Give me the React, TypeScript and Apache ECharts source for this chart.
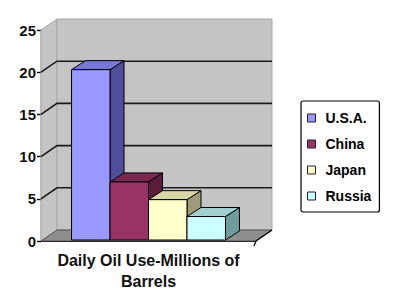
import React, { useEffect, useRef } from "react";
import * as echarts from "echarts";

const categories = ["Daily Oil Use-Millions of\nBarrels"];
const countries = ["U.S.A.", "China", "Japan", "Russia"];
const oilUse = [20.3, 7.0, 4.9, 2.9];
const yTicks = [0, 5, 10, 15, 20, 25];
const frontColors = ["#9999ff", "#993366", "#ffffcc", "#ccffff"];
const topColors = ["#7878dc", "#7a2850", "#d8d5a8", "#a2d0d0"];
const sideColors = ["#4f4f9c", "#5a1d3c", "#9e9c78", "#6f9c9c"];

const FONT = "'Liberation Sans', Arial, Helvetica, sans-serif";
const DX = 16;
const DY = 11;
const BDX = 14;
const BDY = 9;

export default function App() {
  const ref = useRef<HTMLDivElement>(null);
  useEffect(() => {
    if (!ref.current) return;
    const chart = echarts.init(ref.current, null, { renderer: "svg" });

    const wallSeries: any = {
      type: "custom",
      name: "walls",
      z: 1,
      silent: true,
      data: [[0, 0]],
      renderItem: (params: any, api: any) => {
        const cs = params.coordSys;
        const x0 = cs.x, x1 = cs.x + cs.width, yT = cs.y, yB = cs.y + cs.height;
        return {
          type: "group",
          children: [
            {
              type: "polygon",
              shape: { points: [[x0, yT], [x0 + DX, yT - DY], [x0 + DX, yB - DY], [x0, yB]] },
              style: { fill: "#c4c4c4", stroke: "#a8a8a8", lineWidth: 1 },
            },
            {
              type: "rect",
              shape: { x: x0 + DX, y: yT - DY, width: x1 - x0, height: yB - yT },
              style: { fill: "#c4c4c4", stroke: "#a8a8a8", lineWidth: 1 },
            },
            {
              type: "polygon",
              shape: { points: [[x0, yB], [x0 + DX, yB - DY], [x1 + DX, yB - DY], [x1, yB]] },
              style: { fill: "#8e8e8e", stroke: "#555", lineWidth: 1 },
            },
            {
              type: "polyline",
              shape: { points: [[x1 - 2, yB + 5], [x1, yB], [x1 + DX, yB - DY]] },
              style: { fill: "none", stroke: "#000", lineWidth: 1.2 },
            },
          ],
        };
      },
    };

    const gridSeries: any = {
      type: "custom",
      name: "gridlines",
      z: 2,
      silent: true,
      data: yTicks.filter((v) => v > 0 && v < 25).map((v) => [0, v]),
      renderItem: (params: any, api: any) => {
        const cs = params.coordSys;
        const x0 = cs.x, x1 = cs.x + cs.width;
        const y = api.coord([0, api.value(1)])[1];
        return {
          type: "polyline",
          shape: { points: [[x0, y], [x0 + DX, y - DY], [x1 + DX, y - DY]] },
          style: { fill: "none", stroke: "#1a1a1a", lineWidth: 1.6 },
        };
      },
    };

    const barSeries = countries.map((name, i) => ({
      type: "custom",
      name,
      z: 3 + i,
      itemStyle: { color: frontColors[i] },
      data: [[0, oilUse[i]]],
      renderItem: (params: any, api: any) => {
        const p = api.coord([api.value(0), api.value(1)]);
        const base = api.coord([api.value(0), 0]);
        const band = api.size([1, 0])[0];
        const w = (band * 0.716) / 4;
        const left = p[0] - 2 * w + i * w;
        const top = p[1];
        const bot = base[1] - 1;
        const stroke = { stroke: "#000", lineWidth: 1 };
        return {
          type: "group",
          children: [
            {
              type: "polygon",
              shape: { points: [[left + w, top], [left + w + BDX, top - BDY], [left + w + BDX, bot - BDY], [left + w, bot]] },
              style: { fill: sideColors[i], ...stroke },
            },
            {
              type: "polygon",
              shape: { points: [[left, top], [left + BDX, top - BDY], [left + w + BDX, top - BDY], [left + w, top]] },
              style: { fill: topColors[i], ...stroke },
            },
            {
              type: "rect",
              shape: { x: left, y: top, width: w, height: bot - top },
              style: { fill: frontColors[i], ...stroke },
            },
          ],
        };
      },
    }));

    chart.setOption({
      animation: false,
      backgroundColor: "#ffffff",
      grid: { left: 41, top: 30, right: 144, bottom: 62, containLabel: false },
      legend: {
        data: countries,
        orient: "vertical",
        left: 301,
        top: 101,
        icon: "rect",
        itemWidth: 8,
        itemHeight: 8,
        itemGap: 10,
        padding: [9, 8, 8, 6],
        borderColor: "#000",
        borderWidth: 1.2,
        borderRadius: 2,
        itemStyle: { borderColor: "#222", borderWidth: 1 },
        textStyle: {
          fontFamily: FONT,
          fontSize: 14,
          fontWeight: "bold",
          color: "#000",
          lineHeight: 16,
          padding: [0, 0, 0, 5],
        },
      },
      xAxis: {
        type: "category",
        data: categories,
        axisLine: { show: true, lineStyle: { color: "#000", width: 1.2 } },
        axisTick: { show: false },
        axisLabel: {
          margin: 9,
          fontFamily: FONT,
          fontSize: 16,
          fontWeight: "bold",
          color: "#111",
          lineHeight: 21,
        },
      },
      yAxis: {
        type: "value",
        min: 0,
        max: 25,
        interval: 5,
        axisLine: { show: true, lineStyle: { color: "#3a1a1a", width: 1.4 } },
        axisTick: { show: true, length: 4, lineStyle: { color: "#000", width: 1.4 } },
        splitLine: { show: false },
        axisLabel: {
          margin: 5,
          fontFamily: FONT,
          fontSize: 15,
          fontWeight: "bold",
          color: "#111",
        },
      },
      series: [wallSeries, gridSeries, ...barSeries],
    });
    return () => chart.dispose();
  }, []);
  return (
    <div
      ref={ref}
      style={{ position: "absolute", left: 0, top: 0, width: 400, height: 303 }}
    />
  );
}
